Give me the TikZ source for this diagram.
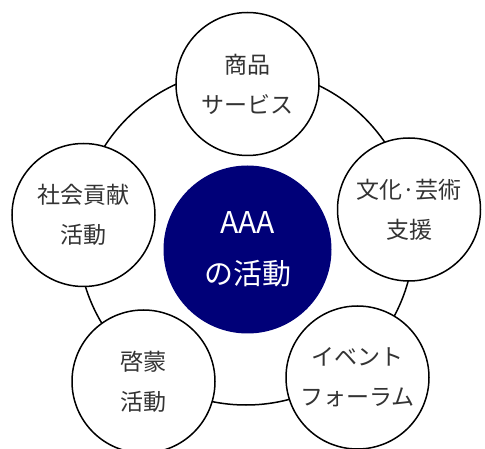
\documentclass[tikz,border=0pt]{standalone}
\usepackage{fontspec}
\setmainfont{Noto Sans CJK JP}
\definecolor{navy}{RGB}{0,0,120}
\definecolor{textgray}{RGB}{51,51,51}
\tikzset{
	item/.style={circle,draw,line width=1.5pt,fill=white,minimum size=143pt,inner sep=0pt,
		align=center,text=textgray,font=\fontsize{23}{40}\selectfont},
	core/.style={circle,fill=navy,minimum size=168pt,inner sep=0pt,
		align=center,text=white,font=\fontsize{29}{51}\selectfont}
}
\begin{document}
\begin{tikzpicture}[x=1pt,y=-1pt]
	\useasboundingbox (0,0) rectangle (485,449);
	\node[circle,draw,line width=1.5pt,minimum size=336pt] (ring) at (246,237) {};
	\node[item] (goods) at (247.5,84) {商品\\サービス};
	\node[item] (culture) at (409,209.5) {文化·芸術\\支援};
	\node[item] (event) at (357.5,377.5) {イベント\\フォーラム};
	\node[item] (edu) at (143.5,381.5) {啓蒙\\活動};
	\node[item] (social) at (83.5,215) {社会貢献\\活動};
	\node[core] (main) at (247.5,249.5) {{\fontsize{30}{51}\selectfont AAA}\\の活動};
\end{tikzpicture}
\end{document}
